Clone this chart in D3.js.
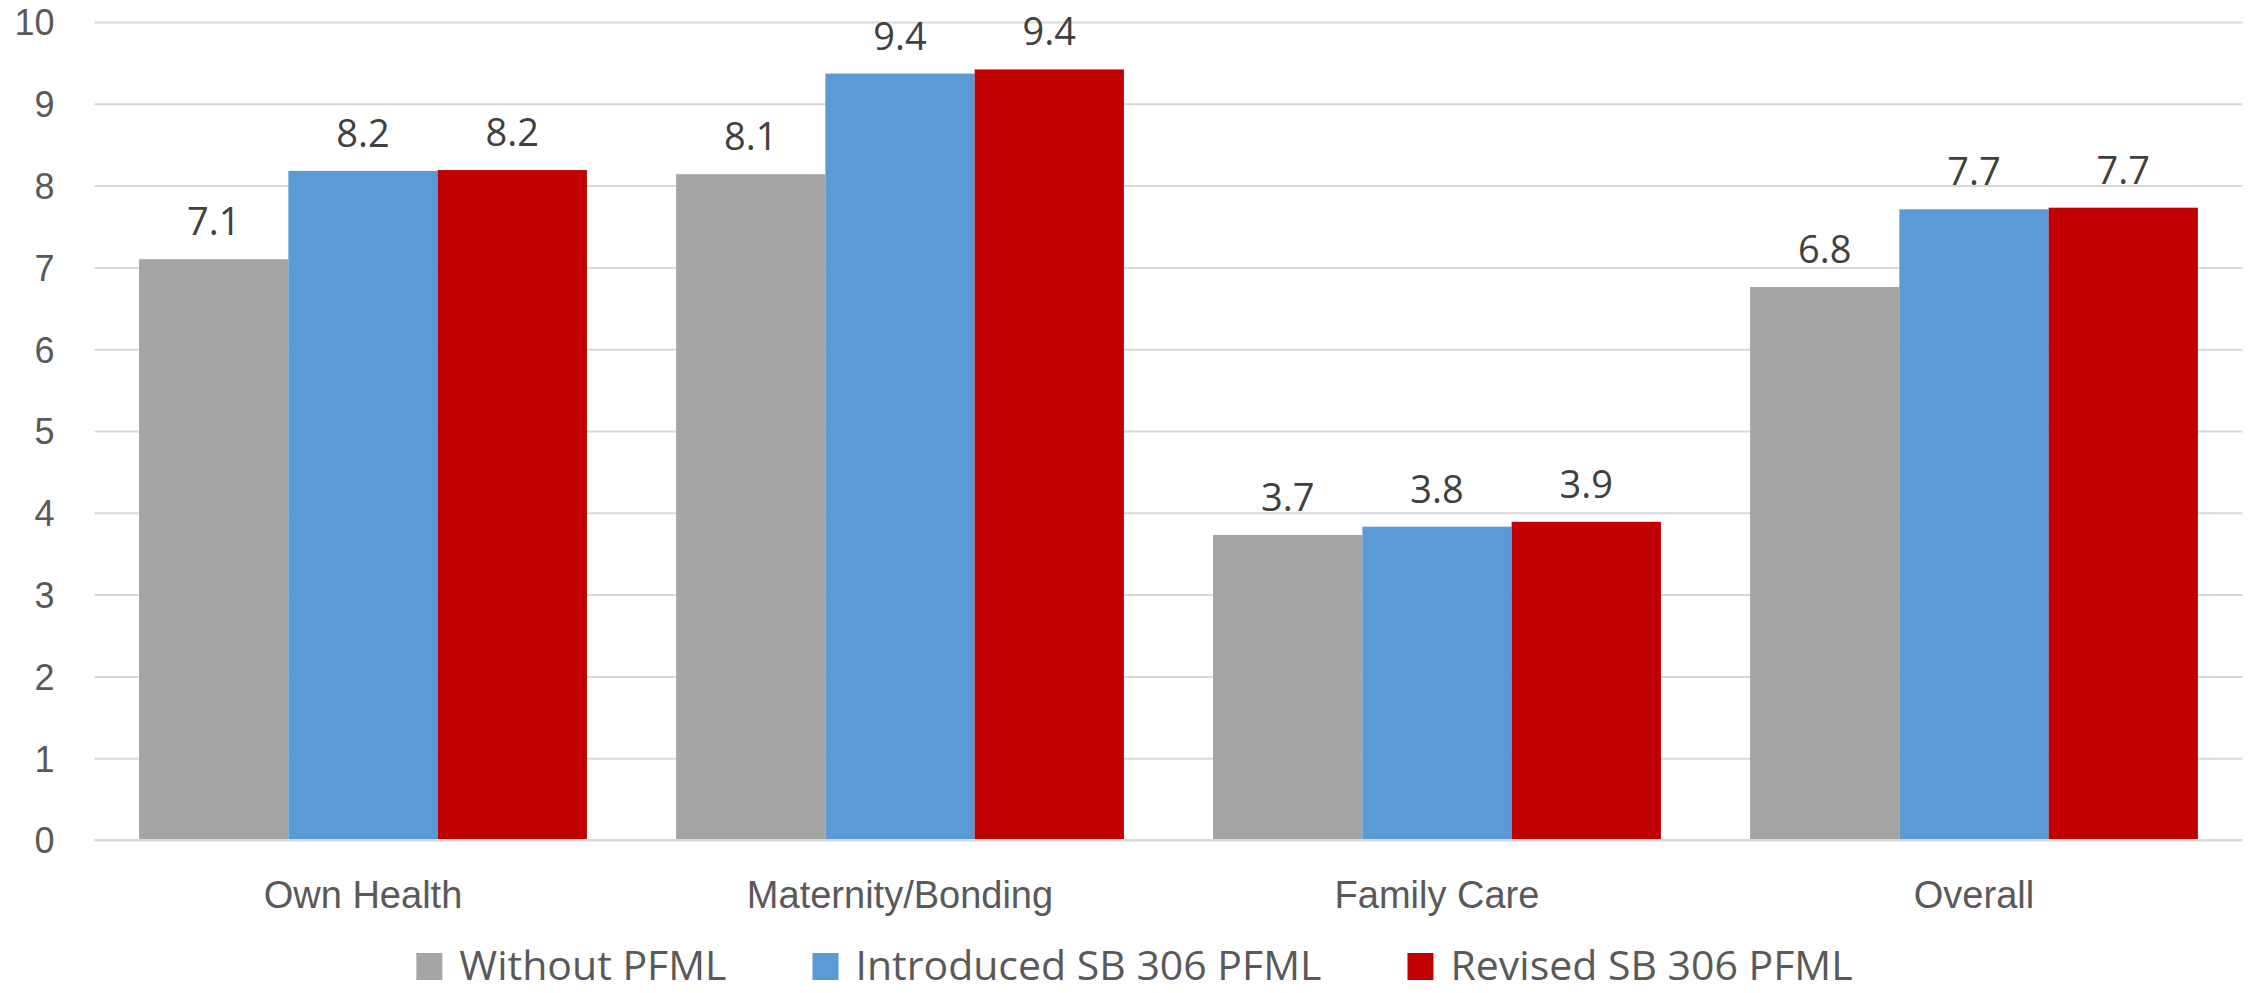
<!DOCTYPE html>
<html>
<head>
<meta charset="utf-8">
<script src="https://cdn.jsdelivr.net/npm/d3@7"></script>
<style>
  html, body { margin: 0; padding: 0; background: #fff; }
  svg { display: block; font-family: "Open Sans", "Noto Sans", sans-serif; }
</style>
</head>
<body>
<svg id="chart" width="2252" height="993"></svg>
<script>
// Leave categories and the three scenarios compared in each
const categories = ["Own Health", "Maternity/Bonding", "Family Care", "Overall"];
const seriesNames = ["Without PFML", "Introduced SB 306 PFML", "Revised SB 306 PFML"];
const withoutPFML = [7.10, 8.14, 3.73, 6.76];
const introducedSB306 = [8.18, 9.37, 3.83, 7.71];
const revisedSB306 = [8.19, 9.42, 3.89, 7.73];
const yTicks = [0, 1, 2, 3, 4, 5, 6, 7, 8, 9, 10];
const seriesColors = ["#A5A5A5", "#5B9BD5", "#C00000"];

const seriesValues = [withoutPFML, introducedSB306, revisedSB306];
const rows = categories.map((c, i) => ({
  category: c,
  values: seriesNames.map((s, j) => ({ series: s, idx: j, value: seriesValues[j][i] }))
}));

const svg = d3.select("#chart");
const plot = { left: 94.5, right: 2242.5, top: 22, bottom: 840 };

const x0 = d3.scaleBand()
  .domain(categories)
  .range([plot.left, plot.right])
  .paddingInner(0.166)
  .paddingOuter(0.083);

const x1 = d3.scaleBand()
  .domain(seriesNames)
  .range([0, x0.bandwidth()])
  .padding(0);

const y = d3.scaleLinear().domain([0, 10]).range([plot.bottom, plot.top]);

// Horizontal gridlines with tick labels on the left
const yAxis = d3.axisLeft(y)
  .tickValues(yTicks)
  .tickSize(-(plot.right - plot.left))
  .tickPadding(40)
  .tickFormat(d3.format("d"));

const gy = svg.append("g")
  .attr("transform", `translate(${plot.left},0)`)
  .call(yAxis);
gy.select(".domain").remove();
gy.selectAll(".tick line").attr("stroke", "#D9D9D9").attr("stroke-width", 2);
gy.selectAll(".tick text")
  .attr("fill", "#595959")
  .attr("font-size", 36)
  .attr("dy", "0.36em");

// Bars
const groups = svg.append("g").selectAll("g")
  .data(rows)
  .join("g")
  .attr("transform", d => `translate(${x0(d.category)},0)`);

groups.selectAll("rect")
  .data(d => d.values)
  .join("rect")
  .attr("x", d => x1(d.series))
  .attr("y", d => y(d.value))
  .attr("width", x1.bandwidth())
  .attr("height", d => y(0) - y(d.value))
  .attr("fill", d => seriesColors[d.idx]);

// Value labels above each bar
groups.selectAll("text")
  .data(d => d.values)
  .join("text")
  .attr("x", d => x1(d.series) + x1.bandwidth() / 2)
  .attr("y", d => y(d.value) - 24)
  .attr("text-anchor", "middle")
  .attr("fill", "#404040")
  .attr("font-size", 38)
  .text(d => d3.format(".1f")(d.value));

// Category axis along the baseline
const xAxis = d3.axisBottom(x0).tickSize(0).tickPadding(0);
const gx = svg.append("g")
  .attr("transform", `translate(0,${plot.bottom})`)
  .call(xAxis);
gx.select(".domain").attr("stroke", "#D9D9D9").attr("stroke-width", 2)
  .attr("d", `M${plot.left},0H${plot.right}`);
gx.selectAll(".tick text")
  .attr("fill", "#595959")
  .attr("font-size", 38)
  .attr("y", 68)
  .attr("dy", 0);

// Legend, centred below the chart
const legend = svg.append("g");
const items = legend.selectAll("g")
  .data(seriesNames)
  .join("g");
items.append("rect")
  .attr("width", 26).attr("height", 27)
  .attr("y", 953)
  .attr("fill", (d, i) => seriesColors[i]);
items.append("text")
  .attr("x", 43)
  .attr("y", 980)
  .attr("fill", "#595959")
  .attr("font-size", 41)
  .text(d => d);

const itemGap = 86;
const widths = [];
items.each(function() {
  widths.push(43 + this.querySelector("text").getComputedTextLength());
});
const total = d3.sum(widths) + itemGap * (widths.length - 1);
let cx = 1134.5 - total / 2;
items.attr("transform", (d, i) => {
  const t = `translate(${cx},0)`;
  cx += widths[i] + itemGap;
  return t;
});
</script>
</body>
</html>
